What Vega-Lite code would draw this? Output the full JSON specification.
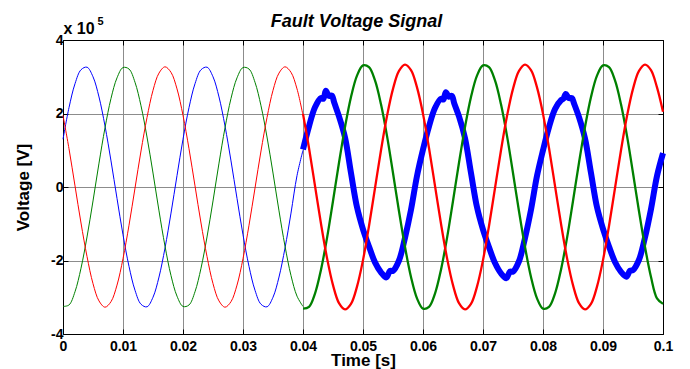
{
  "$schema": "https://vega.github.io/schema/vega-lite/v6.json",
  "width": 600,
  "height": 294,
  "autosize": {"type": "none"},
  "padding": {"left": 63, "top": 40, "right": 27, "bottom": 35},
  "background": "white",
  "config": {
    "font": "Liberation Sans",
    "view": {"stroke": null},
    "axis": {
      "labelFont": "Liberation Sans", "labelFontSize": 14, "labelFontWeight": "bold", "labelColor": "#000000",
      "titleFont": "Liberation Sans", "titleFontSize": 17, "titleFontWeight": "bold", "titleColor": "#000000",
      "domainColor": "#000000", "domainWidth": 1, "tickColor": "#000000", "tickWidth": 1, "tickSize": -5,
      "gridColor": "#8c8c8c", "gridWidth": 1, "gridOpacity": 1,
      "labelFlush": false, "labelOverlap": false
    }
  },
  "data": {"values": [
    {"t":0.000,"p":"A","s":"pre","kv":130},{"t":0.001,"p":"A","s":"pre","kv":216},{"t":0.002,"p":"A","s":"pre","kv":281},{"t":0.003,"p":"A","s":"pre","kv":319},{"t":0.004,"p":"A","s":"pre","kv":326},{"t":0.005,"p":"A","s":"pre","kv":300},{"t":0.006,"p":"A","s":"pre","kv":245},{"t":0.007,"p":"A","s":"pre","kv":166},{"t":0.008,"p":"A","s":"pre","kv":71},{"t":0.009,"p":"A","s":"pre","kv":-31},
    {"t":0.010,"p":"A","s":"pre","kv":-130},{"t":0.011,"p":"A","s":"pre","kv":-216},{"t":0.012,"p":"A","s":"pre","kv":-281},{"t":0.013,"p":"A","s":"pre","kv":-319},{"t":0.014,"p":"A","s":"pre","kv":-326},{"t":0.015,"p":"A","s":"pre","kv":-300},{"t":0.016,"p":"A","s":"pre","kv":-245},{"t":0.017,"p":"A","s":"pre","kv":-166},{"t":0.018,"p":"A","s":"pre","kv":-71},{"t":0.019,"p":"A","s":"pre","kv":31},
    {"t":0.020,"p":"A","s":"pre","kv":130},{"t":0.021,"p":"A","s":"pre","kv":216},{"t":0.022,"p":"A","s":"pre","kv":281},{"t":0.023,"p":"A","s":"pre","kv":319},{"t":0.024,"p":"A","s":"pre","kv":326},{"t":0.025,"p":"A","s":"pre","kv":300},{"t":0.026,"p":"A","s":"pre","kv":245},{"t":0.027,"p":"A","s":"pre","kv":166},{"t":0.028,"p":"A","s":"pre","kv":71},{"t":0.029,"p":"A","s":"pre","kv":-31},
    {"t":0.030,"p":"A","s":"pre","kv":-130},{"t":0.031,"p":"A","s":"pre","kv":-216},{"t":0.032,"p":"A","s":"pre","kv":-281},{"t":0.033,"p":"A","s":"pre","kv":-319},{"t":0.034,"p":"A","s":"pre","kv":-326},{"t":0.035,"p":"A","s":"pre","kv":-300},{"t":0.036,"p":"A","s":"pre","kv":-245},{"t":0.037,"p":"A","s":"pre","kv":-166},{"t":0.038,"p":"A","s":"pre","kv":-71},{"t":0.039,"p":"A","s":"pre","kv":31},{"t":0.040,"p":"A","s":"pre","kv":100},

    {"t":0.000,"p":"B","s":"pre","kv":-325},{"t":0.001,"p":"B","s":"pre","kv":-321},{"t":0.002,"p":"B","s":"pre","kv":-285},{"t":0.003,"p":"B","s":"pre","kv":-221},{"t":0.004,"p":"B","s":"pre","kv":-136},{"t":0.005,"p":"B","s":"pre","kv":-38},{"t":0.006,"p":"B","s":"pre","kv":65},{"t":0.007,"p":"B","s":"pre","kv":161},{"t":0.008,"p":"B","s":"pre","kv":241},{"t":0.009,"p":"B","s":"pre","kv":297},
    {"t":0.010,"p":"B","s":"pre","kv":325},{"t":0.011,"p":"B","s":"pre","kv":321},{"t":0.012,"p":"B","s":"pre","kv":285},{"t":0.013,"p":"B","s":"pre","kv":221},{"t":0.014,"p":"B","s":"pre","kv":136},{"t":0.015,"p":"B","s":"pre","kv":38},{"t":0.016,"p":"B","s":"pre","kv":-65},{"t":0.017,"p":"B","s":"pre","kv":-161},{"t":0.018,"p":"B","s":"pre","kv":-241},{"t":0.019,"p":"B","s":"pre","kv":-297},
    {"t":0.020,"p":"B","s":"pre","kv":-325},{"t":0.021,"p":"B","s":"pre","kv":-321},{"t":0.022,"p":"B","s":"pre","kv":-285},{"t":0.023,"p":"B","s":"pre","kv":-221},{"t":0.024,"p":"B","s":"pre","kv":-136},{"t":0.025,"p":"B","s":"pre","kv":-38},{"t":0.026,"p":"B","s":"pre","kv":65},{"t":0.027,"p":"B","s":"pre","kv":161},{"t":0.028,"p":"B","s":"pre","kv":241},{"t":0.029,"p":"B","s":"pre","kv":297},
    {"t":0.030,"p":"B","s":"pre","kv":325},{"t":0.031,"p":"B","s":"pre","kv":321},{"t":0.032,"p":"B","s":"pre","kv":285},{"t":0.033,"p":"B","s":"pre","kv":221},{"t":0.034,"p":"B","s":"pre","kv":136},{"t":0.035,"p":"B","s":"pre","kv":38},{"t":0.036,"p":"B","s":"pre","kv":-65},{"t":0.037,"p":"B","s":"pre","kv":-161},{"t":0.038,"p":"B","s":"pre","kv":-241},{"t":0.039,"p":"B","s":"pre","kv":-297},{"t":0.040,"p":"B","s":"pre","kv":-325},

    {"t":0.000,"p":"C","s":"pre","kv":195},{"t":0.001,"p":"C","s":"pre","kv":104},{"t":0.002,"p":"C","s":"pre","kv":3},{"t":0.003,"p":"C","s":"pre","kv":-98},{"t":0.004,"p":"C","s":"pre","kv":-189},{"t":0.005,"p":"C","s":"pre","kv":-263},{"t":0.006,"p":"C","s":"pre","kv":-310},{"t":0.007,"p":"C","s":"pre","kv":-327},{"t":0.008,"p":"C","s":"pre","kv":-312},{"t":0.009,"p":"C","s":"pre","kv":-267},
    {"t":0.010,"p":"C","s":"pre","kv":-195},{"t":0.011,"p":"C","s":"pre","kv":-104},{"t":0.012,"p":"C","s":"pre","kv":-3},{"t":0.013,"p":"C","s":"pre","kv":98},{"t":0.014,"p":"C","s":"pre","kv":189},{"t":0.015,"p":"C","s":"pre","kv":263},{"t":0.016,"p":"C","s":"pre","kv":310},{"t":0.017,"p":"C","s":"pre","kv":327},{"t":0.018,"p":"C","s":"pre","kv":312},{"t":0.019,"p":"C","s":"pre","kv":267},
    {"t":0.020,"p":"C","s":"pre","kv":195},{"t":0.021,"p":"C","s":"pre","kv":104},{"t":0.022,"p":"C","s":"pre","kv":3},{"t":0.023,"p":"C","s":"pre","kv":-98},{"t":0.024,"p":"C","s":"pre","kv":-189},{"t":0.025,"p":"C","s":"pre","kv":-263},{"t":0.026,"p":"C","s":"pre","kv":-310},{"t":0.027,"p":"C","s":"pre","kv":-327},{"t":0.028,"p":"C","s":"pre","kv":-312},{"t":0.029,"p":"C","s":"pre","kv":-267},
    {"t":0.030,"p":"C","s":"pre","kv":-195},{"t":0.031,"p":"C","s":"pre","kv":-104},{"t":0.032,"p":"C","s":"pre","kv":-3},{"t":0.033,"p":"C","s":"pre","kv":98},{"t":0.034,"p":"C","s":"pre","kv":189},{"t":0.035,"p":"C","s":"pre","kv":263},{"t":0.036,"p":"C","s":"pre","kv":310},{"t":0.037,"p":"C","s":"pre","kv":327},{"t":0.038,"p":"C","s":"pre","kv":312},{"t":0.039,"p":"C","s":"pre","kv":267},{"t":0.040,"p":"C","s":"pre","kv":195},

    {"t":0.0400,"p":"A","s":"post","kv":102},{"t":0.0410,"p":"A","s":"post","kv":165},{"t":0.0420,"p":"A","s":"post","kv":217},{"t":0.0430,"p":"A","s":"post","kv":242},{"t":0.0434,"p":"A","s":"post","kv":240},{"t":0.0438,"p":"A","s":"post","kv":262},{"t":0.0443,"p":"A","s":"post","kv":248},{"t":0.0448,"p":"A","s":"post","kv":249},{"t":0.0452,"p":"A","s":"post","kv":230},{"t":0.0460,"p":"A","s":"post","kv":192},{"t":0.0470,"p":"A","s":"post","kv":135},{"t":0.0480,"p":"A","s":"post","kv":38},{"t":0.0490,"p":"A","s":"post","kv":-55},
    {"t":0.0500,"p":"A","s":"post","kv":-115},{"t":0.0510,"p":"A","s":"post","kv":-162},{"t":0.0520,"p":"A","s":"post","kv":-205},{"t":0.0530,"p":"A","s":"post","kv":-232},{"t":0.0539,"p":"A","s":"post","kv":-246},{"t":0.0545,"p":"A","s":"post","kv":-228},{"t":0.0550,"p":"A","s":"post","kv":-228},{"t":0.0560,"p":"A","s":"post","kv":-200},{"t":0.0570,"p":"A","s":"post","kv":-138},{"t":0.0580,"p":"A","s":"post","kv":-62},{"t":0.0590,"p":"A","s":"post","kv":30},
    {"t":0.0600,"p":"A","s":"post","kv":102},{"t":0.0610,"p":"A","s":"post","kv":165},{"t":0.0620,"p":"A","s":"post","kv":215},{"t":0.0630,"p":"A","s":"post","kv":240},{"t":0.0634,"p":"A","s":"post","kv":238},{"t":0.0638,"p":"A","s":"post","kv":258},{"t":0.0643,"p":"A","s":"post","kv":246},{"t":0.0648,"p":"A","s":"post","kv":248},{"t":0.0652,"p":"A","s":"post","kv":228},{"t":0.0660,"p":"A","s":"post","kv":192},{"t":0.0670,"p":"A","s":"post","kv":133},{"t":0.0680,"p":"A","s":"post","kv":38},{"t":0.0690,"p":"A","s":"post","kv":-55},
    {"t":0.0700,"p":"A","s":"post","kv":-116},{"t":0.0710,"p":"A","s":"post","kv":-164},{"t":0.0720,"p":"A","s":"post","kv":-207},{"t":0.0730,"p":"A","s":"post","kv":-235},{"t":0.0739,"p":"A","s":"post","kv":-248},{"t":0.0745,"p":"A","s":"post","kv":-230},{"t":0.0750,"p":"A","s":"post","kv":-230},{"t":0.0760,"p":"A","s":"post","kv":-202},{"t":0.0770,"p":"A","s":"post","kv":-139},{"t":0.0780,"p":"A","s":"post","kv":-62},{"t":0.0790,"p":"A","s":"post","kv":30},
    {"t":0.0800,"p":"A","s":"post","kv":100},{"t":0.0810,"p":"A","s":"post","kv":163},{"t":0.0820,"p":"A","s":"post","kv":212},{"t":0.0830,"p":"A","s":"post","kv":236},{"t":0.0834,"p":"A","s":"post","kv":240},{"t":0.0838,"p":"A","s":"post","kv":253},{"t":0.0843,"p":"A","s":"post","kv":242},{"t":0.0848,"p":"A","s":"post","kv":242},{"t":0.0852,"p":"A","s":"post","kv":226},{"t":0.0860,"p":"A","s":"post","kv":190},{"t":0.0870,"p":"A","s":"post","kv":132},{"t":0.0880,"p":"A","s":"post","kv":38},{"t":0.0890,"p":"A","s":"post","kv":-55},
    {"t":0.0900,"p":"A","s":"post","kv":-114},{"t":0.0910,"p":"A","s":"post","kv":-162},{"t":0.0920,"p":"A","s":"post","kv":-204},{"t":0.0930,"p":"A","s":"post","kv":-231},{"t":0.0939,"p":"A","s":"post","kv":-244},{"t":0.0945,"p":"A","s":"post","kv":-228},{"t":0.0950,"p":"A","s":"post","kv":-226},{"t":0.0960,"p":"A","s":"post","kv":-198},{"t":0.0970,"p":"A","s":"post","kv":-137},{"t":0.0980,"p":"A","s":"post","kv":-60},{"t":0.0990,"p":"A","s":"post","kv":30},{"t":0.1000,"p":"A","s":"post","kv":92},

    {"t":0.040,"p":"B","s":"post","kv":-331},{"t":0.041,"p":"B","s":"post","kv":-326},{"t":0.042,"p":"B","s":"post","kv":-290},{"t":0.043,"p":"B","s":"post","kv":-225},{"t":0.044,"p":"B","s":"post","kv":-139},{"t":0.045,"p":"B","s":"post","kv":-38},{"t":0.046,"p":"B","s":"post","kv":66},{"t":0.047,"p":"B","s":"post","kv":163},{"t":0.048,"p":"B","s":"post","kv":245},{"t":0.049,"p":"B","s":"post","kv":303},
    {"t":0.050,"p":"B","s":"post","kv":331},{"t":0.051,"p":"B","s":"post","kv":326},{"t":0.052,"p":"B","s":"post","kv":290},{"t":0.053,"p":"B","s":"post","kv":225},{"t":0.054,"p":"B","s":"post","kv":139},{"t":0.055,"p":"B","s":"post","kv":38},{"t":0.056,"p":"B","s":"post","kv":-66},{"t":0.057,"p":"B","s":"post","kv":-163},{"t":0.058,"p":"B","s":"post","kv":-245},{"t":0.059,"p":"B","s":"post","kv":-303},
    {"t":0.060,"p":"B","s":"post","kv":-331},{"t":0.061,"p":"B","s":"post","kv":-326},{"t":0.062,"p":"B","s":"post","kv":-290},{"t":0.063,"p":"B","s":"post","kv":-225},{"t":0.064,"p":"B","s":"post","kv":-139},{"t":0.065,"p":"B","s":"post","kv":-38},{"t":0.066,"p":"B","s":"post","kv":66},{"t":0.067,"p":"B","s":"post","kv":163},{"t":0.068,"p":"B","s":"post","kv":245},{"t":0.069,"p":"B","s":"post","kv":303},
    {"t":0.070,"p":"B","s":"post","kv":331},{"t":0.071,"p":"B","s":"post","kv":326},{"t":0.072,"p":"B","s":"post","kv":290},{"t":0.073,"p":"B","s":"post","kv":225},{"t":0.074,"p":"B","s":"post","kv":139},{"t":0.075,"p":"B","s":"post","kv":38},{"t":0.076,"p":"B","s":"post","kv":-66},{"t":0.077,"p":"B","s":"post","kv":-163},{"t":0.078,"p":"B","s":"post","kv":-245},{"t":0.079,"p":"B","s":"post","kv":-303},
    {"t":0.080,"p":"B","s":"post","kv":-331},{"t":0.081,"p":"B","s":"post","kv":-326},{"t":0.082,"p":"B","s":"post","kv":-290},{"t":0.083,"p":"B","s":"post","kv":-225},{"t":0.084,"p":"B","s":"post","kv":-139},{"t":0.085,"p":"B","s":"post","kv":-38},{"t":0.086,"p":"B","s":"post","kv":66},{"t":0.087,"p":"B","s":"post","kv":163},{"t":0.088,"p":"B","s":"post","kv":245},{"t":0.089,"p":"B","s":"post","kv":303},
    {"t":0.090,"p":"B","s":"post","kv":331},{"t":0.091,"p":"B","s":"post","kv":326},{"t":0.092,"p":"B","s":"post","kv":290},{"t":0.093,"p":"B","s":"post","kv":225},{"t":0.094,"p":"B","s":"post","kv":139},{"t":0.095,"p":"B","s":"post","kv":38},{"t":0.096,"p":"B","s":"post","kv":-66},{"t":0.097,"p":"B","s":"post","kv":-163},{"t":0.098,"p":"B","s":"post","kv":-245},{"t":0.099,"p":"B","s":"post","kv":-303},{"t":0.100,"p":"B","s":"post","kv":-318},

    {"t":0.040,"p":"C","s":"post","kv":199},{"t":0.041,"p":"C","s":"post","kv":106},{"t":0.042,"p":"C","s":"post","kv":3},{"t":0.043,"p":"C","s":"post","kv":-100},{"t":0.044,"p":"C","s":"post","kv":-193},{"t":0.045,"p":"C","s":"post","kv":-267},{"t":0.046,"p":"C","s":"post","kv":-316},{"t":0.047,"p":"C","s":"post","kv":-333},{"t":0.048,"p":"C","s":"post","kv":-318},{"t":0.049,"p":"C","s":"post","kv":-271},
    {"t":0.050,"p":"C","s":"post","kv":-199},{"t":0.051,"p":"C","s":"post","kv":-106},{"t":0.052,"p":"C","s":"post","kv":-3},{"t":0.053,"p":"C","s":"post","kv":100},{"t":0.054,"p":"C","s":"post","kv":193},{"t":0.055,"p":"C","s":"post","kv":267},{"t":0.056,"p":"C","s":"post","kv":316},{"t":0.057,"p":"C","s":"post","kv":333},{"t":0.058,"p":"C","s":"post","kv":318},{"t":0.059,"p":"C","s":"post","kv":271},
    {"t":0.060,"p":"C","s":"post","kv":199},{"t":0.061,"p":"C","s":"post","kv":106},{"t":0.062,"p":"C","s":"post","kv":3},{"t":0.063,"p":"C","s":"post","kv":-100},{"t":0.064,"p":"C","s":"post","kv":-193},{"t":0.065,"p":"C","s":"post","kv":-267},{"t":0.066,"p":"C","s":"post","kv":-316},{"t":0.067,"p":"C","s":"post","kv":-333},{"t":0.068,"p":"C","s":"post","kv":-318},{"t":0.069,"p":"C","s":"post","kv":-271},
    {"t":0.070,"p":"C","s":"post","kv":-199},{"t":0.071,"p":"C","s":"post","kv":-106},{"t":0.072,"p":"C","s":"post","kv":-3},{"t":0.073,"p":"C","s":"post","kv":100},{"t":0.074,"p":"C","s":"post","kv":193},{"t":0.075,"p":"C","s":"post","kv":267},{"t":0.076,"p":"C","s":"post","kv":316},{"t":0.077,"p":"C","s":"post","kv":333},{"t":0.078,"p":"C","s":"post","kv":318},{"t":0.079,"p":"C","s":"post","kv":271},
    {"t":0.080,"p":"C","s":"post","kv":199},{"t":0.081,"p":"C","s":"post","kv":106},{"t":0.082,"p":"C","s":"post","kv":3},{"t":0.083,"p":"C","s":"post","kv":-100},{"t":0.084,"p":"C","s":"post","kv":-193},{"t":0.085,"p":"C","s":"post","kv":-267},{"t":0.086,"p":"C","s":"post","kv":-316},{"t":0.087,"p":"C","s":"post","kv":-333},{"t":0.088,"p":"C","s":"post","kv":-318},{"t":0.089,"p":"C","s":"post","kv":-271},
    {"t":0.090,"p":"C","s":"post","kv":-199},{"t":0.091,"p":"C","s":"post","kv":-106},{"t":0.092,"p":"C","s":"post","kv":-3},{"t":0.093,"p":"C","s":"post","kv":100},{"t":0.094,"p":"C","s":"post","kv":193},{"t":0.095,"p":"C","s":"post","kv":267},{"t":0.096,"p":"C","s":"post","kv":316},{"t":0.097,"p":"C","s":"post","kv":333},{"t":0.098,"p":"C","s":"post","kv":318},{"t":0.099,"p":"C","s":"post","kv":271},{"t":0.100,"p":"C","s":"post","kv":205}
  ]},
  "resolve": {"axis": {"x": "independent", "y": "independent"}},
  "layer": [
    {
      "transform": [{"filter": "datum.s == 'pre'"}],
      "mark": {"type": "line", "strokeWidth": 1, "interpolate": "catmull-rom"},
      "encoding": {
        "x": {"field": "t", "type": "quantitative", "scale": {"domain": [0, 0.1], "nice": false, "zero": false},
          "axis": {"orient": "bottom", "values": [0, 0.01, 0.02, 0.03, 0.04, 0.05, 0.06, 0.07, 0.08, 0.09, 0.1], "format": "~g", "labelPadding": 10, "grid": true,
            "title": "Time [s]", "titleX": 300, "titleY": 31, "titleBaseline": "alphabetic"}},
        "y": {"field": "kv", "type": "quantitative", "scale": {"domain": [-400, 400], "nice": false},
          "axis": {"orient": "left", "values": [-400, -200, 0, 200, 400], "labelExpr": "datum.value / 100", "labelPadding": 5, "grid": true,
            "title": "Voltage [V]", "titleX": -35, "titleY": 147, "titleAngle": 270, "titleBaseline": "alphabetic", "titleAlign": "center"}},
        "color": {"field": "p", "type": "nominal", "scale": {"domain": ["A", "B", "C"], "range": ["#0000ff", "#008000", "#ff0000"]}, "legend": null}
      }
    },
    {
      "transform": [{"filter": "datum.s == 'post' && datum.p == 'A'"}],
      "mark": {"type": "line", "strokeWidth": 6, "interpolate": "catmull-rom"},
      "encoding": {
        "x": {"field": "t", "type": "quantitative", "axis": null},
        "y": {"field": "kv", "type": "quantitative",
          "axis": {"orient": "left", "labels": false, "ticks": false, "domain": false, "grid": false,
            "title": "5", "titleFontSize": 11, "titleAngle": 0, "titleAlign": "left", "titleBaseline": "alphabetic", "titleX": 34, "titleY": -16}},
        "color": {"field": "p", "type": "nominal", "legend": null}
      }
    },
    {
      "transform": [{"filter": "datum.s == 'post' && datum.p != 'A'"}],
      "mark": {"type": "line", "strokeWidth": 2.3, "interpolate": "catmull-rom"},
      "encoding": {
        "x": {"field": "t", "type": "quantitative",
          "axis": {"orient": "top", "values": [0, 0.01, 0.02, 0.03, 0.04, 0.05, 0.06, 0.07, 0.08, 0.09, 0.1], "labels": false, "grid": false,
            "title": "Fault Voltage Signal", "titleFontSize": 18, "titleFontStyle": "italic", "titleX": 293, "titleY": -14, "titleBaseline": "alphabetic", "titleAlign": "center"}},
        "y": {"field": "kv", "type": "quantitative",
          "axis": {"orient": "right", "values": [-400, -200, 0, 200, 400], "labels": false, "grid": false,
            "title": "x 10", "titleFontSize": 16, "titleAngle": 0, "titleAlign": "left", "titleBaseline": "alphabetic", "titleX": -600, "titleY": -7}},
        "color": {"field": "p", "type": "nominal", "legend": null}
      }
    }
  ]
}
